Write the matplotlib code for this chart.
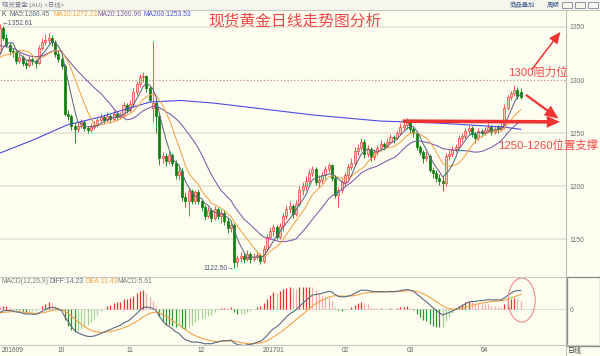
import numpy as np
import pandas as pd
import matplotlib
matplotlib.use('Agg')
import matplotlib.pyplot as plt
from matplotlib.patches import FancyArrowPatch, Ellipse, Rectangle, ArrowStyle
from matplotlib.lines import Line2D

plt.rcParams['font.family'] = ['Liberation Sans', 'Noto Sans CJK SC', 'DejaVu Sans']

# ---------------- data ----------------
# warm-up closes (Jun-Aug 2016) for the moving averages / MACD
history_close = [1214, 1210, 1243, 1246, 1244, 1246, 1262, 1272, 1276, 1285, 1287, 1295, 1279, 1293,
                 1289, 1270, 1268, 1262, 1317, 1323, 1312, 1320,
                 1339, 1350, 1358, 1365, 1367, 1355, 1356, 1341, 1338, 1331, 1326, 1330, 1331, 1318,
                 1323, 1321, 1323, 1327, 1336, 1340, 1351,
                 1353, 1366, 1357, 1363, 1335, 1340, 1342, 1345, 1348, 1335, 1344, 1348, 1357, 1349,
                 1339, 1341, 1330, 1321, 1324, 1326, 1312, 1309, 1308]

opens = [1309, 1312, 1323, 1326, 1349, 1340, 1333, 1327, 1326, 1318,
         1322, 1316, 1314, 1320, 1318, 1316, 1330, 1336, 1338, 1340,
         1336, 1325, 1320, 1313, 1268, 1266, 1257, 1254, 1257, 1260,
         1255, 1253, 1256, 1258, 1262, 1265, 1262, 1266, 1263, 1268,
         1265, 1267, 1276, 1272, 1277, 1289, 1296, 1303, 1304, 1292,
         1274, 1278, 1266, 1226, 1228, 1224, 1229, 1222, 1210, 1214,
         1190, 1186, 1195, 1186, 1194, 1186, 1180, 1172, 1177, 1170,
         1178, 1172, 1175, 1167, 1160, 1163, 1128, 1132, 1134, 1131,
         1136, 1131, 1133, 1135, 1129, 1141, 1152, 1158, 1161, 1152,
         1162, 1172, 1178, 1181, 1174, 1183, 1196, 1200, 1205, 1212,
         1216, 1204, 1206, 1210, 1216, 1220, 1208, 1192, 1196, 1204,
         1210, 1218, 1222, 1233, 1236, 1242, 1230, 1235, 1227, 1232,
         1236, 1240, 1238, 1242, 1246, 1245, 1250, 1256, 1258, 1262,
         1254, 1250, 1237, 1232, 1226, 1228, 1215, 1212, 1208, 1205,
         1203, 1228, 1230, 1235, 1237, 1245, 1247, 1252, 1255, 1249,
         1245, 1252, 1250, 1253, 1256, 1251, 1256, 1254, 1256, 1274,
         1284, 1288, 1291, 1289]

highs = [1316, 1327, 1328, 1352.61, 1351, 1343, 1336, 1330, 1328, 1325,
         1324, 1319, 1323, 1322, 1320, 1333, 1340, 1343, 1344, 1342,
         1338, 1328, 1322, 1315, 1272, 1268, 1260, 1260, 1263, 1262,
         1257, 1259, 1261, 1265, 1269, 1267, 1270, 1268, 1272, 1270,
         1270, 1279, 1278, 1281, 1292, 1299, 1306, 1308, 1305, 1294,
         1337, 1283, 1268, 1232, 1231, 1233, 1231, 1225, 1218, 1217,
         1194, 1198, 1197, 1196, 1197, 1188, 1182, 1180, 1179, 1181,
         1180, 1178, 1177, 1170, 1166, 1165, 1135, 1138, 1137, 1140,
         1138, 1137, 1139, 1137, 1144, 1155, 1161, 1164, 1163, 1165,
         1175, 1182, 1186, 1183, 1187, 1200, 1204, 1209, 1216, 1219,
         1218, 1210, 1213, 1219, 1222, 1221, 1210, 1199, 1207, 1213,
         1221, 1226, 1237, 1240, 1245, 1244, 1239, 1237, 1235, 1239,
         1243, 1242, 1245, 1249, 1248, 1253, 1259, 1261, 1264, 1263,
         1256, 1251, 1239, 1234, 1233, 1230, 1218, 1215, 1211, 1209,
         1231, 1234, 1238, 1240, 1248, 1250, 1255, 1258, 1257, 1251,
         1255, 1254, 1256, 1259, 1258, 1257, 1258, 1259, 1277, 1286,
         1290, 1295, 1293, 1292]

lows = [1305, 1310, 1320, 1325, 1338, 1331, 1324, 1322, 1315, 1316,
        1313, 1310, 1312, 1314, 1311, 1315, 1328, 1333, 1334, 1332,
        1322, 1317, 1310, 1266, 1262, 1253, 1241, 1251, 1255, 1252,
        1250, 1251, 1254, 1256, 1260, 1259, 1260, 1259, 1261, 1262,
        1263, 1265, 1269, 1270, 1275, 1286, 1293, 1298, 1289, 1279,
        1260, 1250, 1220, 1222, 1219, 1221, 1219, 1207, 1206, 1186,
        1180, 1172, 1183, 1183, 1183, 1176, 1168, 1170, 1166, 1168,
        1169, 1165, 1163, 1156, 1157, 1122.5, 1124, 1128, 1127, 1129,
        1127, 1129, 1131, 1126, 1127, 1139, 1150, 1153, 1150, 1150,
        1158, 1169, 1175, 1170, 1172, 1181, 1192, 1196, 1202, 1209,
        1201, 1198, 1203, 1207, 1213, 1205, 1189, 1180, 1193, 1200,
        1207, 1215, 1219, 1229, 1233, 1226, 1227, 1224, 1225, 1229,
        1233, 1234, 1236, 1240, 1241, 1243, 1248, 1253, 1254, 1250,
        1246, 1234, 1229, 1222, 1224, 1213, 1208, 1204, 1201, 1195,
        1200, 1225, 1227, 1232, 1235, 1242, 1244, 1249, 1246, 1241,
        1243, 1246, 1248, 1251, 1248, 1249, 1250, 1252, 1254, 1272,
        1281, 1285, 1282, 1282]

closes = [1312, 1323, 1326, 1349, 1340, 1333, 1327, 1326, 1318, 1322,
          1316, 1314, 1320, 1318, 1316, 1330, 1336, 1338, 1340, 1336,
          1325, 1320, 1313, 1268, 1266, 1257, 1254, 1257, 1260, 1255,
          1253, 1256, 1258, 1262, 1265, 1262, 1266, 1263, 1268, 1265,
          1267, 1276, 1272, 1277, 1289, 1296, 1303, 1304, 1292, 1281,
          1278, 1266, 1226, 1228, 1224, 1229, 1222, 1210, 1214, 1190,
          1186, 1195, 1186, 1194, 1186, 1180, 1172, 1177, 1170, 1178,
          1172, 1175, 1167, 1160, 1163, 1128, 1132, 1134, 1131, 1136,
          1131, 1133, 1135, 1129, 1141, 1152, 1158, 1161, 1152, 1162,
          1172, 1178, 1181, 1174, 1183, 1196, 1200, 1205, 1212, 1216,
          1204, 1206, 1210, 1216, 1220, 1208, 1192, 1196, 1204, 1210,
          1218, 1222, 1233, 1236, 1242, 1230, 1235, 1227, 1232, 1236,
          1240, 1238, 1242, 1246, 1245, 1250, 1256, 1258, 1262, 1254,
          1250, 1237, 1232, 1226, 1228, 1215, 1212, 1208, 1205, 1203,
          1228, 1230, 1235, 1237, 1245, 1247, 1252, 1255, 1249, 1245,
          1252, 1250, 1253, 1256, 1251, 1254, 1254, 1256, 1274, 1284,
          1288, 1291, 1285, 1284]

# MA200 at a few candle positions
ma200_idx = [3.07, 13.2, 23.6, 33.8, 43.9, 49.1, 58.4, 68.5, 78.9, 99.2, 119.8, 137.3, 157.6, 163]
ma200_val = [1231.1, 1243.4, 1257.5, 1265.1, 1274.5, 1279.2, 1280.7, 1278.3, 1274.5, 1267.0,
             1261.3, 1259.4, 1255.7, 1253.5]

month_labels = ['201609', '10', '11', '12', '201701', '02', '03', '04']
month_index = [0, 22, 43, 65, 87, 109, 129, 152]

price_ticks = [1150, 1200, 1250, 1300, 1350]
high_label = '1352.61'
low_label = '1122.50'
ma_texts = ['MA5:1286.45', 'MA10:1272.23', 'MA20:1260.96', 'MA200:1253.53']
macd_texts = ['MACD(12,26,9)', 'DIFF:14.23', 'DEA:11.43', 'MACD:5.61']

# ---------------- colours ----------------
BG = '#fefef0'
UP_EDGE = '#f03c3c'
UP_FACE = '#f9c9c0'
DOWN = '#0b7d0b'
C_MA5 = '#5a6b80'
C_MA10 = '#f5a24a'
C_MA20 = '#7b5aa6'
C_MA200 = '#4b4be0'
RED_TXT = '#f04848'

W, H = 600, 356
fig = plt.figure(figsize=(6, 3.56), dpi=100, facecolor=BG)


def fx(px):
    return px / W


def fy(py):
    return 1 - py / H


# ---------------- indicators ----------------
o = np.array(opens, float)
h = np.array(highs, float)
l = np.array(lows, float)
c = np.array(closes, float)
idx = np.arange(len(c))
nh = len(history_close)
allc = pd.Series(list(map(float, history_close)) + list(c))
ma5 = allc.rolling(5).mean().to_numpy()[nh:]
ma10 = allc.rolling(10).mean().to_numpy()[nh:]
ma20 = allc.rolling(20).mean().to_numpy()[nh:]
ema12 = allc.ewm(span=12, adjust=False).mean()
ema26 = allc.ewm(span=26, adjust=False).mean()
diff = ema12 - ema26
dea = diff.ewm(span=9, adjust=False).mean()
macd_full = 2 * (diff - dea)
diff = diff.to_numpy()[nh:]
dea = dea.to_numpy()[nh:]
macd_prev = macd_full.to_numpy()[nh - 1:-1]
macd = macd_full.to_numpy()[nh:]

XMIN, XMAX = 3.07, 176.9

# ---------------- main price panel ----------------
ax = fig.add_axes([0, fy(277), fx(566), (277 - 9.5) / H])
ax.set_facecolor(BG)
for s in ax.spines.values():
    s.set_visible(False)
ax.set_xlim(XMIN, XMAX)
ax.set_ylim(1114.2, 1366.5)
ax.set_xticks([])
ax.yaxis.tick_right()
ax.set_yticks(price_ticks)
ax.tick_params(axis='y', length=0, pad=2.5, labelsize=4.9, labelcolor='#707070')

for t in price_ticks:
    if t == 1300:
        ax.axhline(t, color='#c89a9a', lw=0.9, ls=(0, (1.2, 1.5)), zorder=1)
    else:
        ax.axhline(t, color='#e6e6dc', lw=1.3, zorder=1)

up = c >= o
bottoms = np.minimum(o, c)
heights = np.maximum(np.abs(c - o), 0.35)
face = np.where(up, UP_FACE, DOWN)
edge = np.where(up, UP_EDGE, DOWN)
ax.vlines(idx, l, h, colors=edge, lw=0.6, zorder=2)
ax.bar(idx, heights, bottom=bottoms, width=0.62, color=face, edgecolor=edge, linewidth=0.5, zorder=3)

ax.plot(ma200_idx, ma200_val, color=C_MA200, lw=0.8, zorder=4)
ax.plot(idx, ma20, color=C_MA20, lw=0.75, zorder=4)
ax.plot(idx, ma10, color=C_MA10, lw=0.75, zorder=4)
ax.plot(idx, ma5, color=C_MA5, lw=0.75, zorder=5)

# red arrows
def arrow(p0, p1, tw, hw, hl):
    a = FancyArrowPatch(p0, p1, arrowstyle=ArrowStyle.Simple(head_length=hl, head_width=hw, tail_width=tw),
                        mutation_scale=1, color='#f03232', lw=0, zorder=6, clip_on=False)
    ax.add_patch(a)

arrow((165.8, 1307.5), (175.7, 1347.5), 1.1, 7.5, 8.5)
arrow((163.9, 1287.5), (175.3, 1262.0), 1.6, 8.5, 10)
arrow((125.9, 1261.2), (175.9, 1260.5), 2.6, 8.5, 9.5)

# ---------------- MACD panel ----------------
ax2 = fig.add_axes([0, fy(345), fx(566), (345 - 277) / H])
ax2.set_facecolor(BG)
for s in ax2.spines.values():
    s.set_visible(False)
ax2.set_xlim(XMIN, XMAX)
ax2.set_ylim(-26.1, 23.2)
ax2.set_xticks([])
ax2.yaxis.tick_right()
ax2.set_yticks([0])
ax2.tick_params(axis='y', length=0, pad=2.5, labelsize=4.9, labelcolor='#707070')
ax2.axhline(0, color='#d8d8d0', lw=0.6, zorder=1)
bar_cols = []
for m, p in zip(macd, macd_prev):
    if m >= 0:
        bar_cols.append('#f03030' if m >= p else '#f7a8a8')
    else:
        bar_cols.append('#2f952f' if m <= p else '#a6d496')
ax2.vlines(idx, 0, macd, colors=bar_cols, lw=0.9, zorder=2)
ax2.plot(idx, dea, color='#f5a24a', lw=0.8, zorder=3)
ax2.plot(idx, diff, color='#5a6b80', lw=0.8, zorder=4)
ax2.add_patch(Ellipse((163.3, 6.5), width=8.3, height=31.9, fill=False, edgecolor='#f08a8a', lw=0.8,
                      zorder=5, clip_on=False))

# month labels (bottom strip, centre at y = 350.5 px)
lab_y = -5.5 / 68
for lab, mi in zip(month_labels, month_index):
    if mi < XMIN:
        ax2.text(XMIN + 0.5, lab_y, lab, transform=ax2.get_xaxis_transform(), ha='left', va='center',
                 fontsize=4.8, color='#606060')
    else:
        ax2.text(mi, lab_y, lab, transform=ax2.get_xaxis_transform(), ha='center', va='center',
                 fontsize=4.8, color='#606060')

# ---------------- frame lines ----------------
def fline(x0, y0, x1, y1, col, lw=0.8):
    fig.add_artist(Line2D([fx(x0), fx(x1)], [fy(y0), fy(y1)], color=col, lw=lw))

fig.add_artist(Rectangle((0, fy(9.5)), 1, 9.5 / H, facecolor='#f6f6ee', edgecolor='none'))
fline(0, 9.5, 600, 9.5, '#c8c8c0')
fline(0, 277, 566, 277, '#c8c8c0')
fline(0, 345, 600, 345, '#c8c8c0')
fline(566, 9.5, 566, 356, '#b8b8b0')
fig.add_artist(Rectangle((fx(567), fy(346)), fx(33), 69 / H, fill=False, edgecolor='#8c8c8c', lw=1.0))

# header texts
fig.text(fx(2), fy(4.8), '现货黄金 (AU) <日线>', fontsize=4.6, color='#7a7a90', va='center')
fig.text(fx(510), fy(4.8), '商品叠加', fontsize=4.6, color='#3d5a8a', va='center')
fig.text(fx(547), fy(4.8), '周期', fontsize=4.6, color='#3d5a8a', va='center')
for bx in (562, 575, 588):
    fig.add_artist(Rectangle((fx(bx), fy(8)), fx(10), 6 / H, fill=False, edgecolor='#7a8aa0', lw=0.6))

fig.text(fx(2), fy(15), 'K', fontsize=4.9, color='#404040', va='center')
for txt, xp, col in zip(ma_texts, [10, 53, 98, 143], [C_MA5, C_MA10, C_MA20, C_MA200]):
    fig.text(fx(xp), fy(15), txt, fontsize=4.9, color=col, va='center')
fig.text(fx(2), fy(23.5), '←' + high_label, fontsize=4.9, color='#4a5d7a', va='center')
fig.text(fx(203), fy(268), low_label + '→', fontsize=4.9, color='#4a5d7a', va='center')

for txt, xp, col in zip(macd_texts, [2, 50, 85, 118], ['#808080', '#5a6b80', '#f5a24a', '#808080']):
    fig.text(fx(xp), fy(281.5), txt, fontsize=4.9, color=col, va='center')

fig.text(fx(568), fy(351), '日线', fontsize=5, color='#404040', va='center')

# red annotation texts
fig.text(fx(208), fy(21), '现货黄金日线走势图分析', fontsize=11.3, color=RED_TXT, va='center')
fig.text(fx(508), fy(72), '1300阻力位', fontsize=8.2, color=RED_TXT, va='center')
fig.text(fx(498), fy(145), '1250-1260位置支撑', fontsize=8.2, color=RED_TXT, va='center')

fig.savefig('out.png', dpi=100, facecolor=BG)
